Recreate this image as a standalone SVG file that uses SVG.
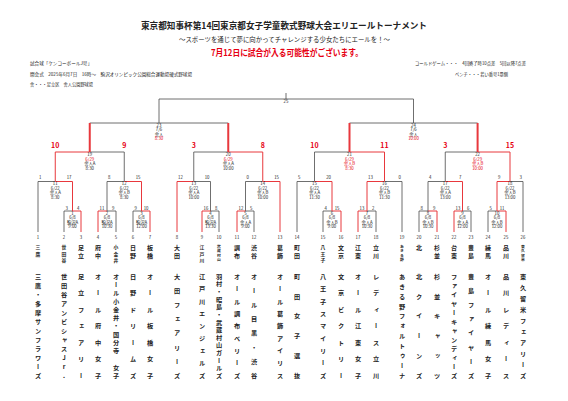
<svg xmlns="http://www.w3.org/2000/svg" width="568" height="401" viewBox="0 0 568 401">
<style>
text{font-family:"Noto Sans CJK JP","Noto Sans",sans-serif;fill:#222}
.g{stroke:#4a4a4a;stroke-width:.8;fill:none}
.r{stroke:#e8383d;stroke-width:1;fill:none}
.rt{stroke:#e8383d;stroke-width:2;fill:none}
.s{font-size:4.3px;text-anchor:middle}
.sl{font-size:4.3px;text-anchor:start}
.se{font-size:4.3px;text-anchor:end}
.red{fill:#e60012}
.sc{font-size:7px;font-weight:bold;fill:#e60012;text-anchor:middle}
.v{writing-mode:vertical-rl;text-anchor:middle;font-weight:bold}
.fn{font-size:6.2px}
.k2{font-size:6px}
.k3{font-size:4.8px}
.k4{font-size:3.8px}
.info{font-size:4.6px}
</style>
<rect width="568" height="401" fill="#fff"/>
<g id="header">
<text x="284" y="29" font-size="8.7" font-weight="bold" text-anchor="middle" textLength="286" lengthAdjust="spacingAndGlyphs">東京都知事杯第14回東京都女子学童軟式野球大会エリエールトーナメント</text>
<text x="284.5" y="41.5" font-size="6.3" text-anchor="middle" textLength="211" lengthAdjust="spacingAndGlyphs">～スポーツを通じて夢に向かってチャレンジする少女たちにエールを！～</text>
<text x="287" y="55.5" font-size="9" font-weight="bold" class="red" text-anchor="middle" textLength="152" lengthAdjust="spacingAndGlyphs">7月12日に試合が入る可能性がございます。</text>
<text x="30" y="64.5" class="info">試合球「ケンコーボールJ号」</text>
<text x="30" y="75.5" class="info" textLength="162" lengthAdjust="spacingAndGlyphs">開会式　2025年6月7日　16時～　駒沢オリンピック公園総合運動場硬式野球場</text>
<text x="30" y="86" class="info" textLength="63" lengthAdjust="spacingAndGlyphs">舎・・・足立区　舎人公園野球場</text>
<text x="415" y="64.5" class="info" textLength="111" lengthAdjust="spacingAndGlyphs">コールドゲーム・・・　4回終了時10点差　5回以降7点差</text>
<text x="455" y="75.5" class="info" textLength="53" lengthAdjust="spacingAndGlyphs">ベンチ・・・若い番号1塁側</text>
</g>
<g id="connectors">
<path class="g" d="M64 211V232M116 211V232M133 211V232M219 211V232M254 211V232M323 211V232M376 211V232M419 211V232M471 211V232M488 211V232
M64 211H72.5M107 211H116M133 211H141.5M210.5 211H219M245.5 211H254M323 211H332M367 211H376M419 211H428M462.5 211H471M488 211H497
M38 181.5V232M38 181.5H55.25M107 181.5V211M107 181.5H124.25M210.5 181.5V211M193.75 181.5H210.5M245.5 181.5V211M245.5 181.5H262.75
M297 181.5V232M297 181.5H314.5M402 181.5V232M384.5 181.5H402M428 181.5V211M428 181.5H445.25M523 181.5V232M510 181.5H523
M124.25 152V181.5M89.75 152H124.25M193.75 152V181.5M193.75 152H228.25M314.5 152V181.5M314.5 152H349.5M445.25 152V181.5M445.25 152H477.6
M89.75 123H228.25M349.5 123H477.6M159 123V99H413.5V123M286 93V99"/>
<path class="r" d="M72.5 211H81V232M107 211H98V232M141.5 211H150V232M210.5 211H202V232M245.5 211H237V232M332 211H341V232M367 211H358V232M428 211H437V232M462.5 211H454V232M497 211H506V232
M55.25 181.5H72.5V211M124.25 181.5H141.5V211M193.75 181.5H177V232M262.75 181.5H280V232M314.5 181.5H332V211M384.5 181.5H367V211M445.25 181.5H462.5V211M510 181.5H497V211
M89.75 152H55.25V181.5M228.25 152H262.75V181.5M349.5 152H384.5V181.5M477.6 152H510V181.5"/>
<path class="rt" d="M89.75 123V152M228.25 123V152M349.5 123V152M477.6 123V152"/>
</g>
<g id="game25"><text class="s" x="286" y="103">25</text></g>
<g id="game23"><text class="s" x="159" y="126.8">23</text><text class="s" x="159" y="131.3">7/6</text><text class="s" x="159" y="135.8">舎人</text><text class="s red" x="159" y="140.3">8:30</text></g>
<g id="game24"><text class="s" x="413.5" y="126.8">24</text><text class="s" x="413.5" y="131.3">7/6</text><text class="s" x="413.5" y="135.8">舎人</text><text class="s red" x="413.5" y="140.3">10:00</text></g>
<g id="scores3">
<text class="sc" x="55.25" y="147.5">10</text><text class="sc" x="124.25" y="147.5">9</text>
<text class="sc" x="193.75" y="147.5">3</text><text class="sc" x="262.75" y="147.5">8</text>
<text class="sc" x="314.5" y="147.5">10</text><text class="sc" x="384.5" y="147.5">11</text>
<text class="sc" x="445.25" y="147.5">3</text><text class="sc" x="510" y="147.5">15</text>
</g>
<g id="game19"><text class="s" x="89.75" y="156">19</text><text class="s red" x="89.75" y="160.5">6/29</text><text class="s" x="89.75" y="165">舎人A</text><text class="s" x="89.75" y="169.5">8:30</text></g>
<g id="game20"><text class="s" x="228.25" y="156">20</text><text class="s red" x="228.25" y="160.5">6/29</text><text class="s" x="228.25" y="165">舎人A</text><text class="s" x="228.25" y="169.5">10:00</text></g>
<g id="game21"><text class="s" x="349.5" y="156">21</text><text class="s red" x="349.5" y="160.5">6/29</text><text class="s red" x="349.5" y="165">舎人B</text><text class="s red" x="349.5" y="169.5">8:30</text></g>
<g id="game22"><text class="s" x="477.6" y="156">22</text><text class="s red" x="477.6" y="160.5">6/29</text><text class="s red" x="477.6" y="165">舎人B</text><text class="s red" x="477.6" y="169.5">10:00</text></g>
<g id="game11"><text class="sl" x="39" y="179">1</text><text class="se" x="71.5" y="179">17</text><text class="s" x="55.25" y="185">11</text><text class="s" x="55.25" y="189.5">6/22</text><text class="s" x="55.25" y="194">舎人A</text><text class="s" x="55.25" y="198.5">8:30</text></g>
<g id="game12"><text class="sl" x="108" y="179">8</text><text class="se" x="140.5" y="179">15</text><text class="s" x="124.25" y="185">12</text><text class="s" x="124.25" y="189.5">6/22</text><text class="s" x="124.25" y="194">舎人B</text><text class="s" x="124.25" y="198.5">8:30</text></g>
<g id="game13"><text class="sl" x="178" y="179">12</text><text class="se" x="209.5" y="179">10</text><text class="s" x="193.75" y="185">13</text><text class="s" x="193.75" y="189.5">6/22</text><text class="s" x="193.75" y="194">舎人A</text><text class="s" x="193.75" y="198.5">10:00</text></g>
<g id="game14"><text class="sl" x="246.5" y="179">0</text><text class="se" x="279" y="179">15</text><text class="s" x="262.75" y="185">14</text><text class="s" x="262.75" y="189.5">6/22</text><text class="s" x="262.75" y="194">舎人B</text><text class="s" x="262.75" y="198.5">10:00</text></g>
<g id="game15"><text class="sl" x="298" y="179">5</text><text class="se" x="331" y="179">20</text><text class="s" x="314.5" y="185">15</text><text class="s" x="314.5" y="189.5">6/22</text><text class="s" x="314.5" y="194">舎人A</text><text class="s" x="314.5" y="198.5">11:30</text></g>
<g id="game16"><text class="sl" x="368" y="179">13</text><text class="se" x="401" y="179">0</text><text class="s" x="384.5" y="185">16</text><text class="s" x="384.5" y="189.5">6/22</text><text class="s" x="384.5" y="194">舎人B</text><text class="s" x="384.5" y="198.5">11:30</text></g>
<g id="game17"><text class="sl" x="429" y="179">4</text><text class="se" x="461.5" y="179">7</text><text class="s" x="445.25" y="185">17</text><text class="s" x="445.25" y="189.5">6/22</text><text class="s" x="445.25" y="194">舎人A</text><text class="s" x="445.25" y="198.5">13:00</text></g>
<g id="game18"><text class="sl" x="498" y="179">9</text><text class="se" x="522" y="179">3</text><text class="s" x="510" y="185">18</text><text class="s" x="510" y="189.5">6/22</text><text class="s" x="510" y="194">舎人B</text><text class="s" x="510" y="198.5">13:00</text></g>
<g id="game1"><text class="sl" x="65.5" y="209.5">3</text><text class="se" x="79.5" y="209.5">4</text><text class="s" x="72.5" y="214.6">1</text><text class="s" x="72.5" y="219.1">6/8</text><text class="s" x="72.5" y="223.6">駒沢A</text><text class="s" x="72.5" y="228.1">9:00</text></g>
<g id="game2"><text class="sl" x="99.5" y="209.5">11</text><text class="se" x="114.5" y="209.5">9</text><text class="s" x="107" y="214.6">2</text><text class="s" x="107" y="219.1">6/8</text><text class="s" x="107" y="223.6">駒沢A</text><text class="s" x="107" y="228.1">10:30</text></g>
<g id="game3"><text class="sl" x="134.5" y="209.5">9</text><text class="se" x="148.5" y="209.5">10</text><text class="s" x="141.5" y="214.6">3</text><text class="s" x="141.5" y="219.1">6/8</text><text class="s" x="141.5" y="223.6">駒沢A</text><text class="s" x="141.5" y="228.1">12:00</text></g>
<g id="game4"><text class="sl" x="203.5" y="209.5">16</text><text class="se" x="217.5" y="209.5">8</text><text class="s" x="210.5" y="214.6">4</text><text class="s" x="210.5" y="219.1">6/8</text><text class="s" x="210.5" y="223.6">駒沢A</text><text class="s" x="210.5" y="228.1">13:30</text></g>
<g id="game5"><text class="sl" x="238.5" y="209.5">12</text><text class="se" x="252.5" y="209.5">5</text><text class="s" x="245.5" y="214.6">5</text><text class="s" x="245.5" y="219.1">6/8</text><text class="s" x="245.5" y="223.6">舎人A</text><text class="s" x="245.5" y="228.1">9:00</text></g>
<g id="game6"><text class="sl" x="324.5" y="209.5">4</text><text class="se" x="339.5" y="209.5">15</text><text class="s" x="332" y="214.6">6</text><text class="s" x="332" y="219.1">6/8</text><text class="s" x="332" y="223.6">舎人B</text><text class="s" x="332" y="228.1">9:00</text></g>
<g id="game7"><text class="sl" x="359.5" y="209.5">13</text><text class="se" x="374.5" y="209.5">2</text><text class="s" x="367" y="214.6">7</text><text class="s" x="367" y="219.1">6/8</text><text class="s" x="367" y="223.6">舎人A</text><text class="s" x="367" y="228.1">10:30</text></g>
<g id="game8"><text class="sl" x="420.5" y="209.5">8</text><text class="se" x="435.5" y="209.5">9</text><text class="s" x="428" y="214.6">8</text><text class="s" x="428" y="219.1">6/8</text><text class="s" x="428" y="223.6">舎人B</text><text class="s" x="428" y="228.1">10:30</text></g>
<g id="game9"><text class="sl" x="455.5" y="209.5">13</text><text class="se" x="469.5" y="209.5">6</text><text class="s" x="462.5" y="214.6">9</text><text class="s" x="462.5" y="219.1">6/8</text><text class="s" x="462.5" y="223.6">舎人A</text><text class="s" x="462.5" y="228.1">12:00</text></g>
<g id="game10"><text class="sl" x="489.5" y="209.5">5</text><text class="se" x="504.5" y="209.5">11</text><text class="s" x="497" y="214.6">10</text><text class="s" x="497" y="219.1">6/8</text><text class="s" x="497" y="223.6">舎人B</text><text class="s" x="497" y="228.1">12:00</text></g>
<g id="team1"><text class="s" x="38" y="239.2">1</text><text class="v k3" x="38" y="247.5 254">三鷹</text><text class="v fn" x="38" y="276.5 285.5 294.5 303.5 312.5 321.5 330.5 339.5 348.5 357.5 366.5 375.5">三鷹・多摩サンフラワーズ</text></g>
<g id="team2"><text class="s" x="64" y="239.2">2</text><text class="v k3" x="64" y="247.5 254 260.5">世田谷</text><text class="v fn" x="64" y="276.5 285.5 294.5 303.5 312.5 321.5 330.5 339.5 348.5 357.5 366.5 375.5" style="text-orientation:upright">世田谷アンビシャスJr.</text></g>
<g id="team3"><text class="s" x="81" y="239.2">3</text><text class="v k2" x="81" y="248 256">足立</text><text class="v fn" x="81" y="276.5 293 309.5 326 342.5 359 375.5">足立フェアリー</text></g>
<g id="team4"><text class="s" x="98" y="239.2">4</text><text class="v k2" x="98" y="248 256">府中</text><text class="v fn" x="98" y="276.5 293 309.5 326 342.5 359 375.5">オール府中女子</text></g>
<g id="team5"><text class="s" x="116" y="239.2">5</text><text class="v k3" x="116" y="247.5 254 260.5">小金井</text><text class="v fn" x="116" y="276.5 284.75 293 301.25 309.5 317.75 326 334.25 342.5 350.75 359 367.25 375.5">オール小金井・国分寺　女子</text></g>
<g id="team6"><text class="s" x="133" y="239.2">6</text><text class="v k2" x="133" y="248 256">日野</text><text class="v fn" x="133" y="276.5 293 309.5 326 342.5 359 375.5">日野ドリームズ</text></g>
<g id="team7"><text class="s" x="150" y="239.2">7</text><text class="v k2" x="150" y="248 256">板橋</text><text class="v fn" x="150" y="276.5 293 309.5 326 342.5 359 375.5">オール板橋女子</text></g>
<g id="team8"><text class="s" x="177" y="239.2">8</text><text class="v k2" x="177" y="248 256">大田</text><text class="v fn" x="177" y="276.5 290.6 304.8 318.9 333.1 347.2 361.4 375.5">大田フェアリーズ</text></g>
<g id="team9"><text class="s" x="202" y="239.2">9</text><text class="v k3" x="202" y="247.5 254 260.5">江戸川</text><text class="v fn" x="202" y="276.5 288.9 301.3 313.6 326 338.4 350.8 363.1 375.5">江戸川エンジェルズ</text></g>
<g id="team10"><text class="s" x="219" y="239.2">10</text><text class="v k4" x="219" y="246.5 251 255.5 260">武蔵村山</text><text class="v fn" x="219" y="276.5 284.1 291.7 299.3 307 314.6 322.2 329.8 337.4 345 352.7 360.3 367.9 375.5">羽村・昭島・武蔵村山ガールズ</text></g>
<g id="team11"><text class="s" x="237" y="239.2">11</text><text class="v k2" x="237" y="248 256">調布</text><text class="v fn" x="237" y="276.5 288.9 301.3 313.6 326 338.4 350.8 363.1 375.5">オール調布ベリーズ</text></g>
<g id="team12"><text class="s" x="254" y="239.2">12</text><text class="v k2" x="254" y="248 256">渋谷</text><text class="v fn" x="254" y="276.5 290.6 304.8 318.9 333.1 347.2 361.4 375.5">オール目黒・渋谷</text></g>
<g id="team13"><text class="s" x="280" y="239.2">13</text><text class="v k2" x="280" y="248 256">葛飾</text><text class="v fn" x="280" y="276.5 288.9 301.3 313.6 326 338.4 350.8 363.1 375.5">オール葛飾アイリス</text></g>
<g id="team14"><text class="s" x="297" y="239.2">14</text><text class="v k2" x="297" y="248 256">町田</text><text class="v fn" x="297" y="276.5 296.3 316.1 335.9 355.7 375.5">町田女子選抜</text></g>
<g id="team15"><text class="s" x="323" y="239.2">15</text><text class="v k3" x="323" y="247.5 254 260.5">八王子</text><text class="v fn" x="323" y="276.5 288.9 301.3 313.6 326 338.4 350.8 363.1 375.5">八王子スマイリーズ</text></g>
<g id="team16"><text class="s" x="341" y="239.2">16</text><text class="v k2" x="341" y="248 256">文京</text><text class="v fn" x="341" y="276.5 293 309.5 326 342.5 359 375.5">文京ビクトリー</text></g>
<g id="team17"><text class="s" x="358" y="239.2">17</text><text class="v k2" x="358" y="248 256">江東</text><text class="v fn" x="358" y="276.5 293 309.5 326 342.5 359 375.5">オール江東女子</text></g>
<g id="team18"><text class="s" x="376" y="239.2">18</text><text class="v k2" x="376" y="248 256">立川</text><text class="v fn" x="376" y="276.5 293 309.5 326 342.5 359 375.5">レディース立川</text></g>
<g id="team19"><text class="s" x="402" y="239.2">19</text><text class="v k4" x="402" y="246.5 251 255.5 260">あきる野</text><text class="v fn" x="402" y="276.5 286.4 296.3 306.2 316.1 326 335.9 345.8 355.7 365.6 375.5">あきる野フォルトゥーナ</text></g>
<g id="team20"><text class="s" x="419" y="239.2">20</text><text class="v k2" x="419" y="248">北</text><text class="v fn" x="419" y="276.5 296.3 316.1 335.9 355.7 375.5">北クイーンズ</text></g>
<g id="team21"><text class="s" x="437" y="239.2">21</text><text class="v k2" x="437" y="248 256">杉並</text><text class="v fn" x="437" y="276.5 296.3 316.1 335.9 355.7 375.5">杉並キャッツ</text></g>
<g id="team22"><text class="s" x="454" y="239.2">22</text><text class="v k2" x="454" y="248 256">台東</text><text class="v fn" x="454" y="276.5 285.5 294.5 303.5 312.5 321.5 330.5 339.5 348.5 357.5 366.5 375.5">ファイヤーキャンディーズ</text></g>
<g id="team23"><text class="s" x="471" y="239.2">23</text><text class="v k2" x="471" y="248 256">豊島</text><text class="v fn" x="471" y="276.5 290.6 304.8 318.9 333.1 347.2 361.4 375.5">豊島ファイヤーズ</text></g>
<g id="team24"><text class="s" x="488" y="239.2">24</text><text class="v k2" x="488" y="248 256">練馬</text><text class="v fn" x="488" y="276.5 293 309.5 326 342.5 359 375.5">オール練馬女子</text></g>
<g id="team25"><text class="s" x="506" y="239.2">25</text><text class="v k2" x="506" y="248 256">品川</text><text class="v fn" x="506" y="276.5 293 309.5 326 342.5 359 375.5">品川レディース</text></g>
<g id="team26"><text class="s" x="523" y="239.2">26</text><text class="v k4" x="523" y="246.5 251 255.5 260">東久留米</text><text class="v fn" x="523" y="276.5 287.5 298.5 309.5 320.5 331.5 342.5 353.5 364.5 375.5">東久留米フェアリーズ</text></g>
</svg>
